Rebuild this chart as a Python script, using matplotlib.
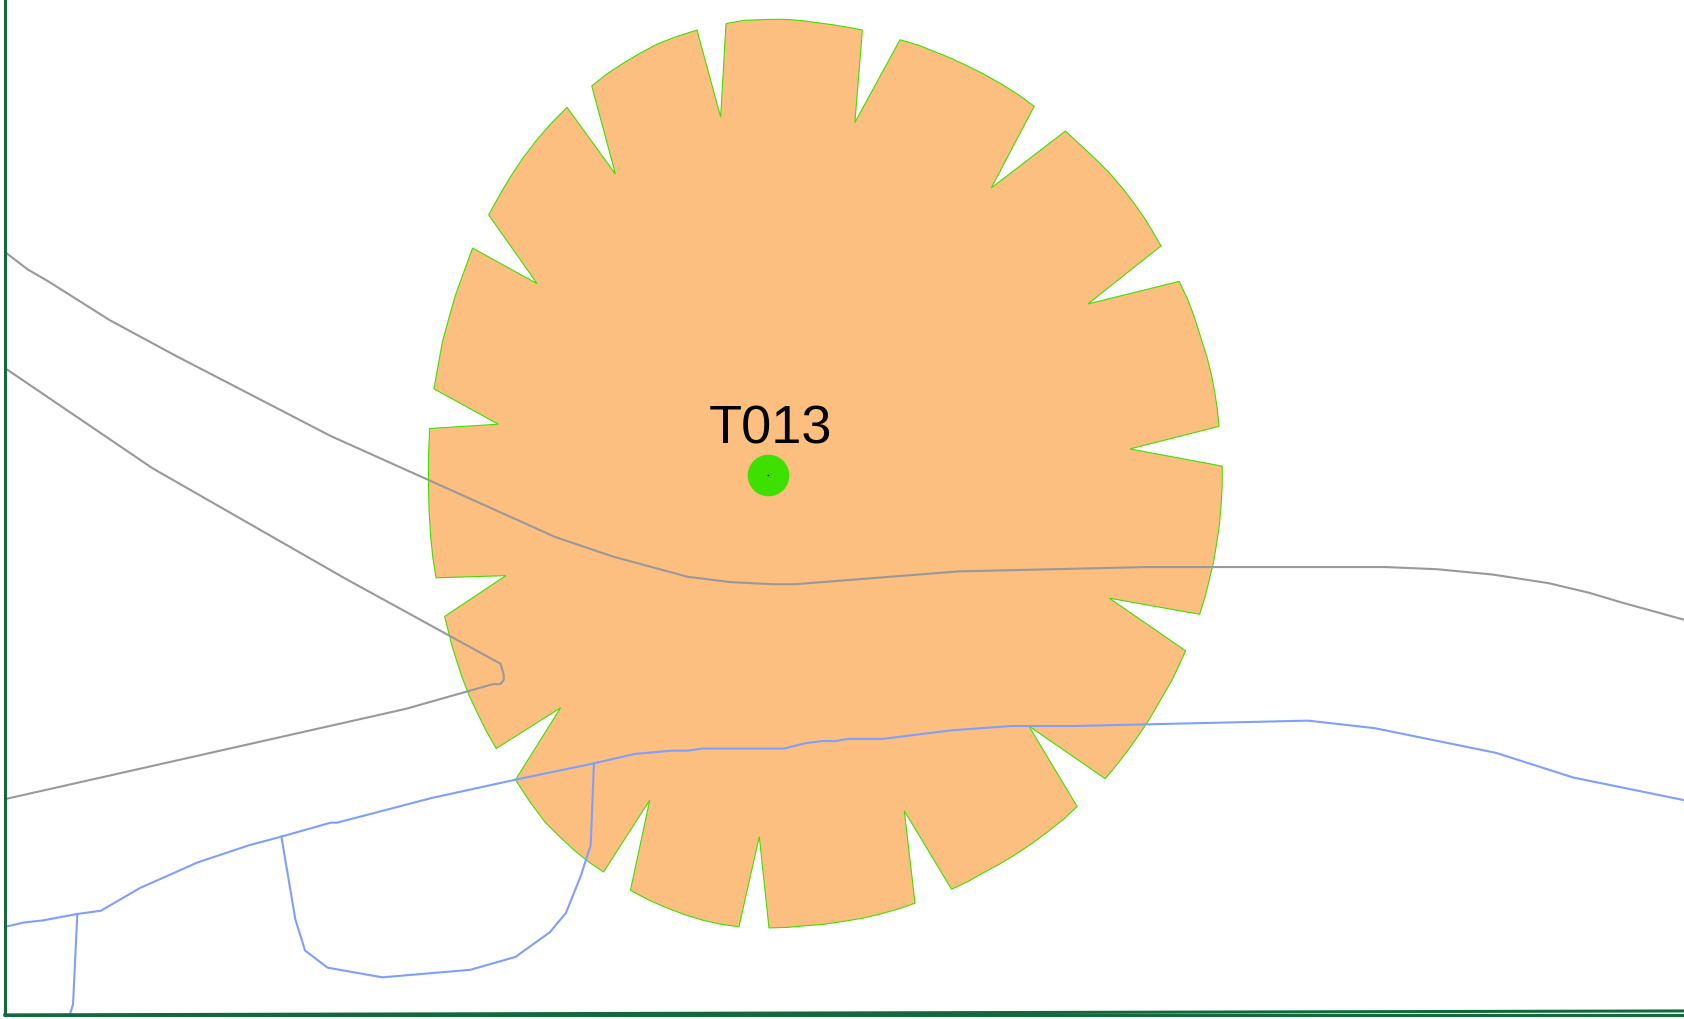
import matplotlib
matplotlib.use("Agg")
import matplotlib.pyplot as plt

# everything read in pixels of the 1684x1019 reference
W = 1684
H = 1019
SC = 1684 / 1568  # points below were read from the 1568 wide view

# shadow flicker area round the turbine, outline goes clockwise
area = [(676, 22), (684, 20.5), (692, 19), (705, 18.5), (718, 18), (730, 18), (745, 19), (760, 21), (775, 23),
        (790, 25.5), (803, 28), (796, 114),
        (838, 37), (855, 42), (870, 48), (885, 54), (900, 61), (916, 69), (932, 78), (948, 88), (963, 99), (923, 175),
        (992, 122), (1006, 135), (1020, 148), (1033, 161), (1045, 175), (1055, 188), (1065, 202), (1073, 215),
        (1081, 229), (1013, 283),
        (1098, 262), (1106, 279), (1112, 295), (1118, 314), (1124, 333), (1128, 349), (1131, 365), (1133.5, 381),
        (1135, 397), (1052, 418),
        (1138, 434), (1138, 452), (1137, 470), (1135.5, 488), (1133, 505), (1130, 523), (1126, 540), (1122, 556),
        (1117, 572), (1033, 557),
        (1104, 606), (1098, 619), (1092, 632), (1081, 651), (1070, 670), (1060, 685), (1050, 699), (1040, 712),
        (1029, 725), (958, 676),
        (1003, 751), (990, 763), (975, 775), (960, 786), (945, 796), (930, 805), (915, 813), (901, 821), (886, 828),
        (842, 755),
        (852, 841), (836, 846.5), (820, 851), (803, 855), (785, 858), (768, 860.5), (750, 862), (733, 863.5),
        (716, 864), (707, 779),
        (688, 863), (671, 860.5), (655, 857), (637, 851.5), (620, 845), (603, 837.5), (587, 829), (605, 745),
        (562, 812), (548, 802.5), (535, 792), (520, 778), (507, 765), (493, 746), (480, 726), (522, 659),
        (462, 697), (453, 681), (445, 665), (437, 648), (430, 630), (421, 602), (414, 574), (471, 536),
        (406, 538), (403, 519), (401, 500), (399.5, 475), (399, 450), (399, 425), (400, 399), (464, 395),
        (404, 362), (408, 340), (412, 318), (418, 296), (424, 275), (432, 253), (440, 231), (500, 264),
        (455, 200), (465, 182), (475, 165), (487, 147), (500, 130), (514, 114), (528, 100), (573, 162),
        (551, 80), (565, 69), (580, 59), (596, 49.5), (612, 41), (630, 34), (649, 28), (671, 109)]

# grey roads
road_a = [(5, 235), (26, 251), (45, 262), (102, 298), (165, 332), (308, 406), (517, 500), (570, 518),
          (640, 537), (680, 542), (720, 544), (740, 544), (893, 532), (1068, 528), (1290, 528),
          (1338, 530), (1390, 535), (1442, 543), (1480, 552), (1510, 561), (1568, 577)]
road_b = [(5, 343), (142, 436), (322, 539), (466, 618), (469, 628), (469, 633), (466, 637),
          (459, 637), (378, 660), (5, 744)]

# blue streams
stream_main = [(5, 863), (22, 859), (40, 857), (72, 851), (94, 848), (130, 827), (184, 803), (232, 787),
               (262, 779), (308, 766), (314, 766), (402, 743), (425, 738), (480, 726), (552, 711),
               (591, 702), (625, 699), (640, 699), (654, 697), (730, 697), (750, 692), (766, 690),
               (778, 690), (790, 688), (822, 688), (886, 680), (942, 676), (1000, 676), (1218, 671),
               (1280, 678), (1393, 701), (1465, 724), (1568, 745)]
stream_left = [(72, 851), (68, 935), (65, 945)]
stream_mid = [(262, 779), (275, 856), (284, 885), (305, 901), (356, 910), (438, 903), (480, 891),
              (512, 868), (527, 850), (541, 815), (550, 787), (553, 711)]

# map frame
frame_left = [(4.5, 0), (4.5, 945)]
frame_bottom = [(4.5, 945), (1568, 945)]
frame_bottom2 = [(4.5, 945), (1568, 941.3)]

turbine_xy = (715, 442)
turbine_label = "T013"

COL_AREA = "#fdbf80"
COL_EDGE = "#3de000"
COL_ROAD = "#999999"
COL_STREAM = "#7f9ffb"
COL_FRAME = "#14693c"


def sc(pts):
    return [p[0] * SC for p in pts], [p[1] * SC for p in pts]


fig = plt.figure(figsize=(W / 100, H / 100), dpi=100)
ax = fig.add_axes([0, 0, 1, 1])
ax.set_xlim(0, W)
ax.set_ylim(H, 0)
ax.axis("off")

x, y = sc(area)
ax.fill(x, y, facecolor=COL_AREA, edgecolor=COL_EDGE, lw=0.8, zorder=1)

for line in [road_a, road_b]:
    x, y = sc(line)
    ax.plot(x, y, color=COL_ROAD, lw=1.5, zorder=2)

for line in [stream_main, stream_left, stream_mid]:
    x, y = sc(line)
    ax.plot(x, y, color=COL_STREAM, lw=1.5, zorder=3)

for line in [frame_left, frame_bottom, frame_bottom2]:
    x, y = sc(line)
    ax.plot(x, y, color=COL_FRAME, lw=2.2, zorder=4)

ax.scatter(turbine_xy[0] * SC, turbine_xy[1] * SC, s=900, color=COL_EDGE, linewidths=0, zorder=5)
ax.scatter(turbine_xy[0] * SC, turbine_xy[1] * SC, s=1.5, color="black", linewidths=0, zorder=6)
ax.text(717 * SC, 413 * SC, turbine_label, family="Liberation Sans", fontsize=39, color="black",
        ha="center", va="baseline", zorder=7)

fig.savefig("out.png", dpi=100)
